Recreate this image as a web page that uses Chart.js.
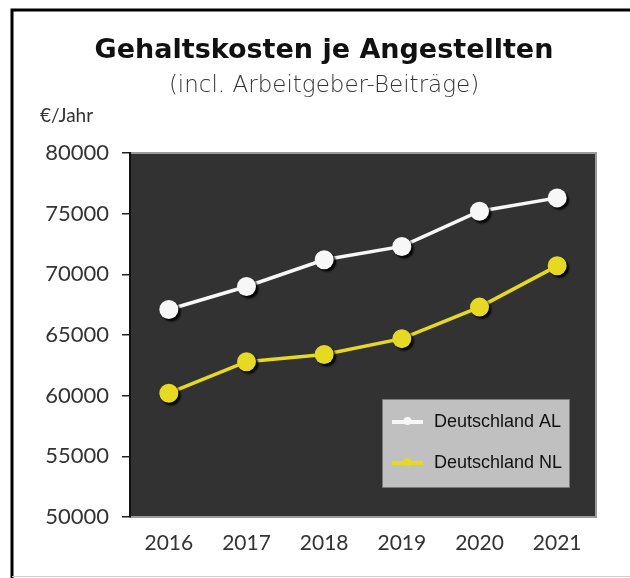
<!DOCTYPE html>
<html>
<head>
<meta charset="utf-8">
<script src="https://cdn.jsdelivr.net/npm/chart.js@4"></script>
<style>
  html, body { margin: 0; padding: 0; background: #fff; }
  canvas { display: block; }
</style>
</head>
<body>
<canvas id="gehalt_chart" width="630" height="578"></canvas>
<script>
// data
const years = ['2016', '2017', '2018', '2019', '2020', '2021']
const deutschlandAL = [67100, 69000, 71200, 72300, 75200, 76300]
const deutschlandNL = [60200, 62800, 63400, 64700, 67300, 70700]
const yTicks = [50000, 55000, 60000, 65000, 70000, 75000, 80000]

const TITLE = 'Gehaltskosten je Angestellten'
const SUBTITLE = '(incl. Arbeitgeber-Beiträge)'
const Y_UNIT = '€/Jahr'

const FONT = 'Lato, "DejaVu Sans", sans-serif'

// white page, black frame lines, titles, dark plot area
const framePlugin = {
    id: 'frame',
    beforeDraw(chart) {
        const c = chart.ctx
        const a = chart.chartArea
        c.save()
        c.fillStyle = '#fff'
        c.fillRect(0, 0, chart.width, chart.height)
        c.strokeStyle = '#000'
        c.lineWidth = 3
        c.beginPath()
        c.moveTo(12, chart.height)
        c.lineTo(12, 10)
        c.lineTo(chart.width, 10)
        c.stroke()
        c.strokeStyle = '#cfcfcf'
        c.lineWidth = 1
        c.beginPath()
        c.moveTo(12, 576.5)
        c.lineTo(chart.width, 576.5)
        c.stroke()

        // title block is centred a bit right of the canvas middle
        c.textAlign = 'center'
        c.textBaseline = 'middle'
        c.fillStyle = '#111'
        c.font = 'bold 27px "DejaVu Sans", sans-serif'
        c.fillText(TITLE, 324, 51)
        c.fillStyle = '#333'
        c.font = '200 23px "DejaVu Sans", sans-serif'
        c.fillText(SUBTITLE, 324, 86)

        c.fillStyle = '#323232'
        c.fillRect(a.left, a.top, a.right - a.left, a.bottom - a.top)
        c.strokeStyle = '#9a9a9a'
        c.lineWidth = 2
        c.strokeRect(a.left, a.top, a.right - a.left, a.bottom - a.top)

        // unit label above the y axis
        c.fillStyle = '#333'
        c.font = '19px ' + FONT
        c.textAlign = 'left'
        c.fillText(Y_UNIT, 40, 116)
        c.restore()
    }
}

// line first, then points with a drop shadow
const shadowPlugin = {
    id: 'pointShadow',
    beforeDatasetDraw(chart, args) {
        const c = chart.ctx
        const meta = args.meta
        c.save()
        meta.dataset.draw(c, chart.chartArea)
        c.shadowColor = 'rgba(0,0,0,0.9)'
        c.shadowBlur = 2
        c.shadowOffsetX = 2.5
        c.shadowOffsetY = 2.5
        meta.data.forEach(p => p.draw(c, chart.chartArea))
        c.restore()
        return false
    }
}

// grey legend box inside the plot, bottom right
const legendBoxPlugin = {
    id: 'legendBox',
    afterDatasetsDraw(chart) {
        const c = chart.ctx
        const x = 382, y = 399, w = 187, h = 88
        c.save()
        c.fillStyle = '#c0c0c0'
        c.fillRect(x, y, w, h)
        c.strokeStyle = '#7a7a7a'
        c.lineWidth = 1
        c.strokeRect(x + 0.5, y + 0.5, w, h)
        chart.data.datasets.forEach((ds, i) => {
            const cy = 422 + i * 41
            c.strokeStyle = ds.borderColor
            c.lineWidth = 4
            c.beginPath()
            c.moveTo(392, cy)
            c.lineTo(423, cy)
            c.stroke()
            c.fillStyle = ds.borderColor
            c.beginPath()
            c.arc(407.5, cy - 1, 4, 0, Math.PI * 2)
            c.fill()
            c.fillStyle = '#111'
            c.font = '18px "Liberation Sans", Arial, sans-serif'
            c.textBaseline = 'middle'
            c.textAlign = 'left'
            c.fillText(ds.label, 434, cy)
        })
        c.restore()
    }
}

const ctx = document.getElementById('gehalt_chart')

const gehaltChart = new Chart(ctx, {
    type: 'line',
    data: {
        labels: years,
        datasets: [{
            label: 'Deutschland AL',
            data: deutschlandAL,
            borderColor: '#f7f7f7',
            backgroundColor: '#f7f7f7',
            borderWidth: 3.5,
            pointRadius: 9.5,
            pointBorderWidth: 0,
        }, {
            label: 'Deutschland NL',
            data: deutschlandNL,
            borderColor: '#e6d923',
            backgroundColor: '#e6d923',
            borderWidth: 3.5,
            pointRadius: 9.5,
            pointBorderWidth: 0,
        }]
    },
    options: {
        responsive: false,
        animation: false,
        tension: 0,
        layout: {
            padding: { top: 153, right: 34, bottom: 0, left: 0 }
        },
        plugins: {
            legend: { display: false },
            tooltip: { enabled: false },
            title: { display: false }
        },
        scales: {
            x: {
                offset: true,
                grid: { display: false, drawTicks: false },
                border: { display: false },
                ticks: {
                    color: '#333',
                    padding: 14,
                    font: { family: FONT, size: 21 }
                },
                afterFit(scale) { scale.height = 61 }
            },
            y: {
                min: yTicks[0],
                max: yTicks[yTicks.length - 1],
                afterBuildTicks(scale) {
                    scale.ticks = yTicks.map(v => ({ value: v }))
                },
                grid: {
                    drawOnChartArea: false,
                    tickLength: 8,
                    color: '#222',
                    lineWidth: 1.5
                },
                border: { color: '#111', width: 2 },
                ticks: {
                    color: '#333',
                    padding: 13,
                    font: { family: FONT, size: 22 },
                    callback: value => String(value)
                },
                afterFit(scale) { scale.width = 130 }
            }
        }
    },
    plugins: [framePlugin, shadowPlugin, legendBoxPlugin]
})
</script>
</body>
</html>
